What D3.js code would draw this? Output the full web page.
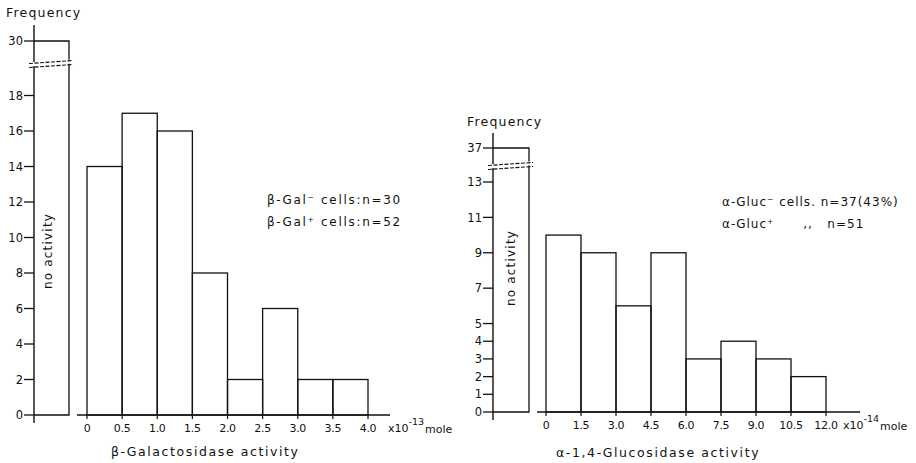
<!DOCTYPE html>
<html>
<head>
<meta charset="utf-8">
<script src="https://cdn.jsdelivr.net/npm/d3@7"></script>
<style>
  body { margin: 0; background: #fff; }
  svg text { font-family: "DejaVu Sans", sans-serif; fill: #111; }
</style>
</head>
<body>
<svg width="916" height="463"></svg>
<script>
// left panel: beta-galactosidase, bins of 0.5 x10^-13 mole
const galBins = [0, 0.5, 1.0, 1.5, 2.0, 2.5, 3.0, 3.5, 4.0];
const galCounts = [14, 17, 16, 8, 2, 6, 2, 2];
const galNone = 30;
const galYTicks = [0, 2, 4, 6, 8, 10, 12, 14, 16, 18, 30];
const galXLabels = ["0", "0.5", "1.0", "1.5", "2.0", "2.5", "3.0", "3.5", "4.0"];

// right panel: alpha-1,4-glucosidase, bins of 1.5 x10^-14 mole
const glucBins = [0, 1.5, 3.0, 4.5, 6.0, 7.5, 9.0, 10.5, 12.0];
const glucCounts = [10, 9, 6, 9, 3, 4, 3, 2];
const glucNone = 37;
const glucYTicks = [0, 1, 2, 3, 4, 5, 7, 9, 11, 13, 37];
const glucXLabels = ["0", "1.5", "3.0", "4.5", "6.0", "7.5", "9.0", "10.5", "12.0"];

var svg = d3.select("svg");
const ink = "#111";

function panel(o) {
    var g = svg.append("g");
    var x = d3.scaleLinear().domain(o.xDomain).range(o.xRange);
    var y = d3.scaleLinear().domain(o.yDomain).range(o.yRange);
    var y0 = y(0);

    // "no activity" bar
    g.append("path")
        .attr("d", "M" + o.axisX + "," + y(o.none) + "H" + o.noneRight + "V" + y0 + "H" + o.axisX)
        .attr("fill", "none").attr("stroke", ink).attr("stroke-width", 1.3);

    // y axis line
    g.append("line")
        .attr("x1", o.axisX).attr("x2", o.axisX)
        .attr("y1", o.axisTop).attr("y2", y0 + 8)
        .attr("stroke", ink).attr("stroke-width", 1.4);

    // break in axis and bar
    g.append("rect")
        .attr("x", o.axisX - 6).attr("y", o.breakY - 2)
        .attr("width", o.noneRight - o.axisX + 12).attr("height", 4)
        .attr("fill", "#fff").attr("transform", "rotate(-4," + o.axisX + "," + o.breakY + ")");
    [-2, 2].forEach(function(d) {
        g.append("line")
            .attr("x1", o.axisX - 5).attr("x2", o.noneRight + 4)
            .attr("y1", o.breakY + d + 1.5).attr("y2", o.breakY + d - 1.5)
            .attr("stroke", ink).attr("stroke-width", 1.1)
            .attr("stroke-dasharray", "4,1.5");
    });

    // y ticks
    var yt = g.selectAll(".yt").data(o.yTicks).enter().append("g")
        .attr("transform", function(d) { return "translate(" + o.axisX + "," + y(d) + ")"; });
    yt.append("line").attr("x1", -10).attr("x2", 0).attr("stroke", ink).attr("stroke-width", 1.3);
    yt.append("text").attr("x", -11).attr("dy", "0.36em")
        .attr("text-anchor", "end").attr("font-size", 11.5)
        .text(function(d) { return d; });

    // x axis of the histogram
    g.append("line")
        .attr("x1", o.xLine[0]).attr("x2", o.xLine[1])
        .attr("y1", y0).attr("y2", y0)
        .attr("stroke", ink).attr("stroke-width", 1.3);

    var xt = g.selectAll(".xt").data(o.bins).enter().append("g")
        .attr("transform", function(d) { return "translate(" + x(d) + "," + y0 + ")"; });
    xt.append("line").attr("y1", 0).attr("y2", 4).attr("stroke", ink).attr("stroke-width", 1.2);
    xt.append("text").attr("y", 17).attr("text-anchor", "middle").attr("font-size", 11)
        .attr("letter-spacing", -0.3)
        .text(function(d, i) { return o.xLabels[i]; });

    // histogram bars
    g.selectAll(".bar").data(o.counts).enter().append("rect")
        .attr("x", function(d, i) { return x(o.bins[i]); })
        .attr("width", function(d, i) { return x(o.bins[i + 1]) - x(o.bins[i]); })
        .attr("y", function(d) { return y(d); })
        .attr("height", function(d) { return y0 - y(d); })
        .attr("fill", "none").attr("stroke", ink).attr("stroke-width", 1.3);

    // labels
    g.append("text").attr("x", o.freqX).attr("y", o.freqY)
        .attr("font-size", 12.5).attr("letter-spacing", 1.2).text("Frequency");

    g.append("text")
        .attr("transform", "translate(" + o.noneTextX + "," + o.noneTextY + ") rotate(-90)")
        .attr("text-anchor", "middle").attr("font-size", 12).attr("letter-spacing", 1.2)
        .text("no activity");

    var u = g.append("text").attr("x", x(o.bins[o.bins.length - 1]) + o.unitGap).attr("y", y0 + 17)
        .attr("font-size", 11);
    u.append("tspan").text("x10");
    u.append("tspan").attr("dy", -7).attr("font-size", 9.5).text(o.exp);
    u.append("tspan").attr("dy", 8).attr("dx", 1).text("mole");

    g.append("text").attr("x", o.titleX).attr("y", o.titleY).attr("font-size", 12.5)
        .attr("letter-spacing", 1.6).text(o.title);

    o.legend.forEach(function(t, i) {
        g.append("text").attr("x", o.legX).attr("y", o.legY + i * 22)
            .attr("font-size", 12).attr("letter-spacing", o.legSpacing)
            .attr("xml:space", "preserve").text(t);
    });
}

panel({
    bins: galBins, counts: galCounts, none: galNone, yTicks: galYTicks, xLabels: galXLabels,
    xDomain: [0, 4], xRange: [87, 368],
    yDomain: [0, 18, 30], yRange: [415, 95.5, 41],
    axisX: 34, noneRight: 69, axisTop: 25, breakY: 64,
    xLine: [77, 390],
    freqX: 6, freqY: 17, noneTextX: 52, noneTextY: 251,
    exp: "-13", unitGap: 20, title: "β-Galactosidase activity", titleX: 111, titleY: 456,
    legend: ["β-Gal⁻ cells:n=30", "β-Gal⁺ cells:n=52"], legX: 267, legY: 204, legSpacing: 1.7
});

panel({
    bins: glucBins, counts: glucCounts, none: glucNone, yTicks: glucYTicks, xLabels: glucXLabels,
    xDomain: [0, 12], xRange: [546, 826],
    yDomain: [0, 13, 37], yRange: [412, 182, 148],
    axisX: 493, noneRight: 529, axisTop: 133, breakY: 166,
    xLine: [537, 860],
    freqX: 467, freqY: 126, noneTextX: 515, noneTextY: 268,
    exp: "-14", unitGap: 17, title: "α-1,4-Glucosidase activity", titleX: 556, titleY: 457,
    legend: ["α-Gluc⁻ cells. n=37(43%)", "α-Gluc⁺      ,,   n=51"], legX: 722, legY: 206, legSpacing: 1.0
});
</script>
</body>
</html>
